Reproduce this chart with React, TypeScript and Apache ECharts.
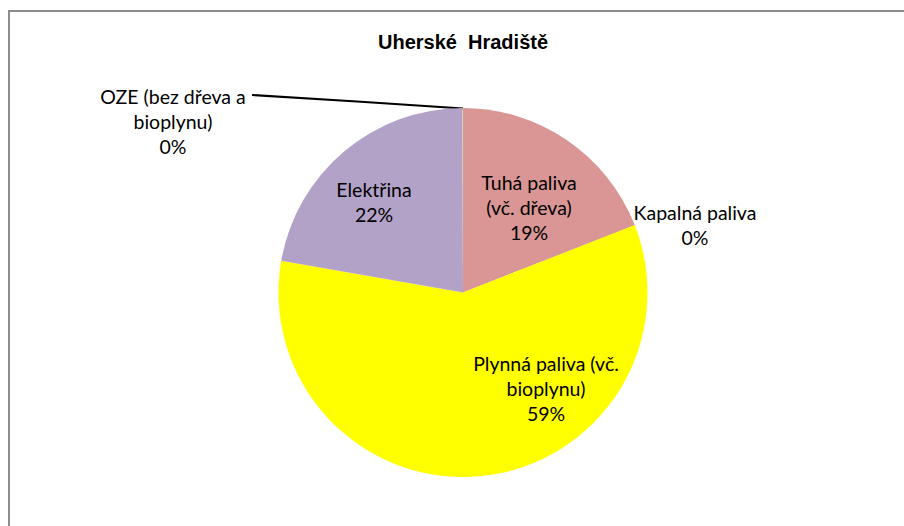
import React, { useEffect, useRef } from "react";
import * as echarts from "echarts";

const TITLE = "Uherské  Hradiště";
const categories = [
  "Tuhá paliva (vč. dřeva)",
  "Kapalná paliva",
  "Plynná paliva (vč. bioplynu)",
  "Elektřina",
  "OZE (bez dřeva a bioplynu)",
];
const labelTexts = [
  "Tuhá paliva\n(vč. dřeva)",
  "Kapalná paliva",
  "Plynná paliva (vč.\nbioplynu)",
  "Elektřina",
  "OZE (bez dřeva a\nbioplynu)",
];
const values = [19.0, 0.05, 58.7, 22.2, 0.05];
const colors = ["#D99694", "#C0504D", "#FFFF00", "#B3A2C7", "#C3D69B"];

// label anchor centres (layout only)
const labelAnchors: number[][] = [
  [529, 207],
  [695, 225],
  [546, 388],
  [374, 202],
  [173, 121],
];

const LABEL_FONT = "Lato, Carlito, 'Open Sans', sans-serif";

export default function App() {
  const ref = useRef<HTMLDivElement>(null);
  useEffect(() => {
    if (!ref.current) return;
    const chart = echarts.init(ref.current, undefined, { renderer: "svg" });
    const data = categories.map((name, i) => ({
      name,
      value: values[i],
      itemStyle: { color: colors[i] },
      label:
        i === 1 || i === 4
          ? { position: "outside" as const }
          : { position: "inside" as const },
      labelLine: {
        show: i === 4,
        lineStyle: { color: "#000", width: 2 },
      },
    }));
    chart.setOption({
      animation: false,
      backgroundColor: "#fff",
      graphic: [
        {
          type: "rect",
          z: -1,
          shape: { x: 9, y: 11, width: 1000, height: 1000 },
          style: { fill: "none", stroke: "#8C8C8C", lineWidth: 2 },
        },
        {
          type: "text",
          x: 463,
          y: 42,
          style: {
            text: TITLE,
            align: "center",
            verticalAlign: "middle",
            font: "bold 20px 'Liberation Sans', Arial, sans-serif",
            fill: "#000",
          },
        },
      ],
      series: [
        {
          type: "pie",
          center: [463, 292.5],
          radius: 184.5,
          startAngle: 90,
          clockwise: true,
          minAngle: 0,
          avoidLabelOverlap: false,
          percentPrecision: 0,
          itemStyle: { borderWidth: 0 },
          emphasis: { disabled: true },
          label: {
            show: true,
            formatter: (p: any) => `${labelTexts[p.dataIndex]}\n${p.percent}%`,
            fontFamily: LABEL_FONT,
            fontSize: 19.5,
            lineHeight: 25,
            color: "#000",
            align: "center",
          },
          labelLayout: (p: any) => {
            const a = labelAnchors[p.dataIndex];
            const out: any = {
              x: a[0],
              y: a[1],
              align: "center",
              verticalAlign: "middle",
            };
            if (p.dataIndex === 4) {
              out.labelLinePoints = [
                [463, 108.5],
                [357, 101.5],
                [252, 95],
              ];
            }
            return out;
          },
          data,
        },
      ],
    });
    return () => chart.dispose();
  }, []);
  return (
    <div
      ref={ref}
      style={{ position: "fixed", left: 0, top: 0, width: 904, height: 526 }}
    />
  );
}
